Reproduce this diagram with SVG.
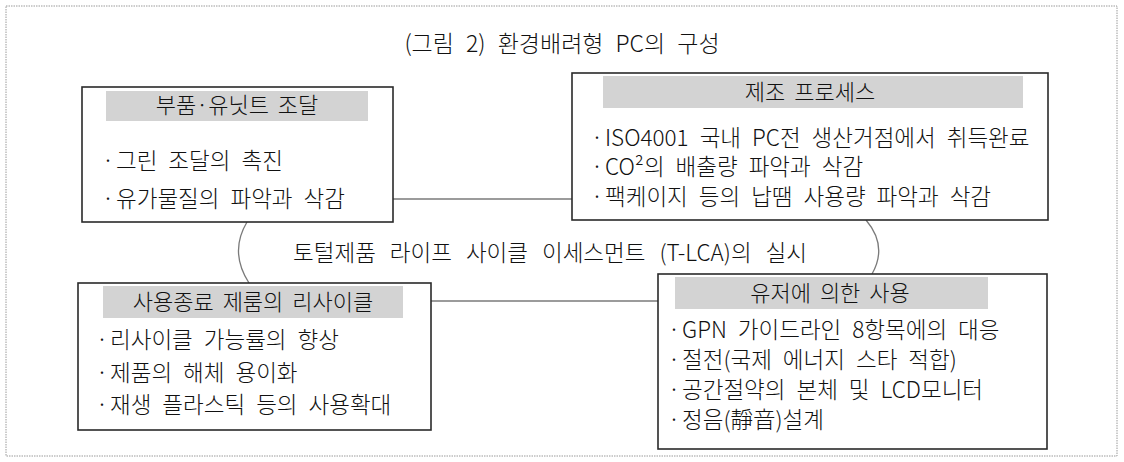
<svg xmlns="http://www.w3.org/2000/svg" width="1124" height="462" viewBox="0 0 1124 462">
<style>
  text { font-family: "Noto Sans CJK KR", "Noto Sans", sans-serif; fill: #111111; font-weight: 300; }
  .title { font-size: 23px; word-spacing: 7px; }
  .mid { font-size: 22.5px; word-spacing: 9px; }
  .hdr { font-size: 22px; word-spacing: 4px; text-anchor: middle; }
  .bul { font-size: 22.5px; word-spacing: 6px; }
  .box { fill: #ffffff; stroke: #2a2a2a; stroke-width: 1.6; }
  .band { fill: #d3d3d3; stroke: none; }
  .conn { fill: none; stroke: #7a7a7a; stroke-width: 1.3; }
  .frame { fill: none; stroke: #9a9a9a; stroke-width: 1; stroke-dasharray: 1.5 1; }
</style>
<rect class="frame" x="6" y="6" width="1111" height="450"/>
<text class="title" x="562" y="52" text-anchor="middle">(그림 2) 환경배려형 PC의 구성</text>

<g id="connectors">
  <line class="conn" x1="393" y1="199" x2="572" y2="199"/>
  <line class="conn" x1="431" y1="301" x2="658" y2="301"/>
  <path class="conn" d="M247,222 Q229,252 249,283"/>
  <path class="conn" d="M866,220 Q888,246 872,274"/>
</g>

<g id="center-label">
  <text class="mid" x="550" y="261" text-anchor="middle">토털제품 라이프 사이클 이세스먼트 (T-LCA)의 실시</text>
</g>

<g id="node-parts">
  <rect class="box" x="82" y="87" width="311" height="135"/>
  <rect class="band" x="106" y="91" width="262" height="30"/>
  <text class="hdr" x="237" y="113">부품·유닛트 조달</text>
  <text class="bul" x="102" y="169">·<tspan x="116">그린 조달의 촉진</tspan></text>
  <text class="bul" x="102" y="207">·<tspan x="116">유가물질의 파악과 삭감</tspan></text>
</g>

<g id="node-manufacturing">
  <rect class="box" x="572" y="73" width="476" height="147"/>
  <rect class="band" x="603" y="76" width="420" height="32"/>
  <text class="hdr" x="810" y="100">제조 프로세스</text>
  <text class="bul" x="591" y="146">·<tspan x="605">ISO4001 국내 PC전 생산거점에서 취득완료</tspan></text>
  <text class="bul" x="591" y="175">·<tspan x="605">CO²의 배출량 파악과 삭감</tspan></text>
  <text class="bul" x="591" y="205">·<tspan x="605">팩케이지 등의 납땜 사용량 파악과 삭감</tspan></text>
</g>

<g id="node-recycle">
  <rect class="box" x="78" y="283" width="353" height="147"/>
  <rect class="band" x="103" y="286" width="300" height="32"/>
  <text class="hdr" x="253" y="310">사용종료 제룸의 리사이클</text>
  <text class="bul" x="96" y="348">·<tspan x="110">리사이클 가능률의 향상</tspan></text>
  <text class="bul" x="96" y="381">·<tspan x="110">제품의 해체 용이화</tspan></text>
  <text class="bul" x="96" y="413">·<tspan x="110">재생 플라스틱 등의 사용확대</tspan></text>
</g>

<g id="node-usage">
  <rect class="box" x="658" y="274" width="389" height="175"/>
  <rect class="band" x="675" y="277" width="313" height="32"/>
  <text class="hdr" x="830" y="301">유저에 의한 사용</text>
  <text class="bul" x="668" y="338">·<tspan x="682">GPN 가이드라인 8항목에의 대응</tspan></text>
  <text class="bul" x="668" y="368">·<tspan x="682">절전(국제 에너지 스타 적합)</tspan></text>
  <text class="bul" x="668" y="398">·<tspan x="682">공간절약의 본체 및 LCD모니터</tspan></text>
  <text class="bul" x="668" y="428">·<tspan x="682">정음(靜音)설계</tspan></text>
</g>
</svg>
